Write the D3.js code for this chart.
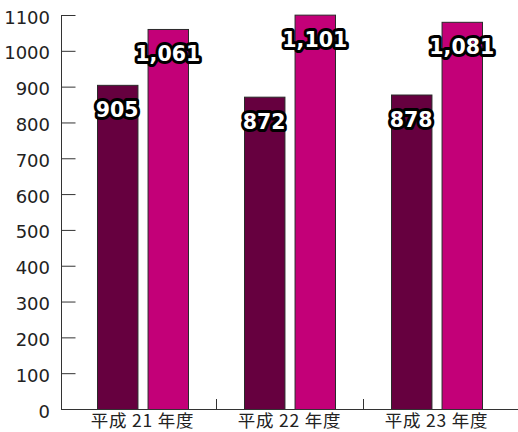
<!DOCTYPE html>
<html><head><meta charset="utf-8">
<script src="https://cdn.jsdelivr.net/npm/d3@7"></script>
<style>
html,body{margin:0;padding:0;background:#fff;}
svg{display:block;}
</style>
</head><body>
<svg id="chart" width="518" height="432"></svg>
<script>
const categories = ["平成 21 年度", "平成 22 年度", "平成 23 年度"];
const seriesNames = ["A", "B"];
const seriesA = [905, 872, 878];
const seriesB = [1061, 1101, 1081];
const labelsA = ["905", "872", "878"];
const labelsB = ["1,061", "1,101", "1,081"];
const yTicks = [0,100,200,300,400,500,600,700,800,900,1000,1100];
const colors = ["#66003f", "#c30078"];

const svg = d3.select("#chart");
const y = d3.scaleLinear().domain([0, 1100]).range([409, 15]);
const x0 = d3.scaleBand().domain(categories).range([69, 510]).padding(0);
const x1 = d3.scaleBand().domain(seriesNames).range([28, 119]).paddingInner(0.2).paddingOuter(0);

// y axis
const yAxis = d3.axisRight(y).tickValues(yTicks).tickSize(14).tickFormat("");
const ya = svg.append("g").attr("transform", "translate(61.5,0)").call(yAxis);
ya.select(".domain").remove();
ya.selectAll(".tick line").attr("stroke", "#333");
svg.append("line").attr("x1", 61.5).attr("x2", 61.5).attr("y1", y(1100)).attr("y2", y(0)).attr("stroke", "#333");

// y labels
svg.append("g").selectAll("text").data(yTicks).join("text")
  .attr("x", 50).attr("y", d => y(d) + 2)
  .attr("text-anchor", "end").attr("dominant-baseline", "central")
  .attr("font-family", "DejaVu Sans").attr("font-size", 18).attr("fill", "#222")
  .text(d => d);

// bars
const data = categories.map((c, i) => ({c, vals: [
  {s: "A", v: seriesA[i], l: labelsA[i], col: colors[0]},
  {s: "B", v: seriesB[i], l: labelsB[i], col: colors[1]}
]}));
const g = svg.append("g").selectAll("g").data(data).join("g")
  .attr("transform", d => `translate(${x0(d.c)},0)`);
g.selectAll("rect").data(d => d.vals).join("rect")
  .attr("x", d => x1(d.s) + 0.5).attr("width", x1.bandwidth())
  .attr("y", d => y(d.v) + 0.5).attr("height", d => y(0) - y(d.v))
  .attr("fill", d => d.col).attr("stroke", "#2a2a2a").attr("stroke-width", 1);

// x axis
svg.append("line").attr("x1", 61).attr("x2", 518).attr("y1", 409.5).attr("y2", 409.5).attr("stroke", "#333");
svg.append("g").selectAll("line").data(categories.slice(1)).join("line")
  .attr("x1", d => x0(d) + 0.5).attr("x2", d => x0(d) + 0.5)
  .attr("y1", 399).attr("y2", 409).attr("stroke", "#333");
svg.append("g").selectAll("text").data(categories).join("text")
  .attr("x", d => x0(d) + x0.bandwidth() / 2).attr("y", 427)
  .attr("text-anchor", "middle")
  .attr("font-family", "'Noto Sans CJK JP'").attr("font-size", 17.5)
  .attr("letter-spacing", 0.8).attr("fill", "#222")
  .text(d => d);

// value labels
g.selectAll("text").data(d => d.vals).join("text")
  .attr("x", d => x1(d.s) + x1.bandwidth() / 2)
  .attr("y", d => y(d.v) + 25)
  .attr("text-anchor", "middle").attr("dominant-baseline", "central")
  .attr("font-family", "DejaVu Sans").attr("font-weight", "bold").attr("font-size", 20.5)
  .attr("fill", "#fff").attr("stroke", "#000").attr("stroke-width", 6)
  .attr("stroke-linejoin", "round").attr("paint-order", "stroke")
  .text(d => d.l);
</script>
</body></html>
